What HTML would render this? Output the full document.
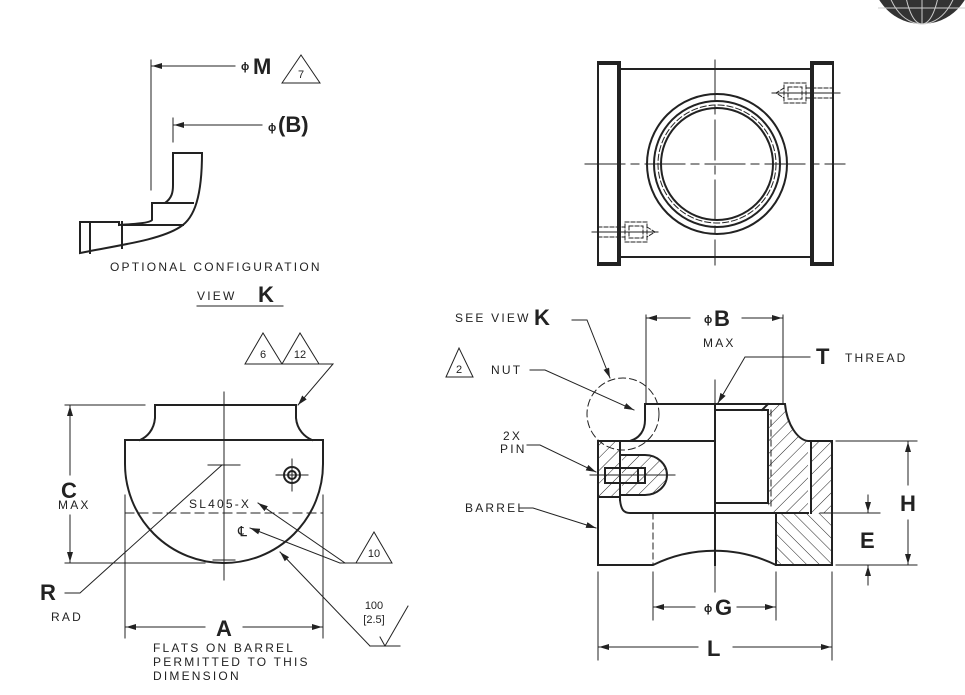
<!DOCTYPE html>
<html><head><meta charset="utf-8"><style>
html,body{margin:0;padding:0;background:#fff;}
svg{display:block;}
text{font-family:"Liberation Sans",sans-serif;fill:#222;}
.s{font-size:12px;letter-spacing:2.2px;}
.b{font-size:22px;font-weight:bold;}
</style></head><body>
<svg width="965" height="695" viewBox="0 0 965 695" xmlns="http://www.w3.org/2000/svg">
<defs>
<pattern id="h" patternUnits="userSpaceOnUse" width="9" height="9" patternTransform="rotate(45)">
<line x1="0" y1="0" x2="0" y2="9" stroke="#222" stroke-width="1"/></pattern>
<pattern id="h2" patternUnits="userSpaceOnUse" width="9" height="9" patternTransform="rotate(-45)">
<line x1="0" y1="0" x2="0" y2="9" stroke="#222" stroke-width="1"/></pattern>
<marker id="a" viewBox="0 0 10 6" refX="10" refY="3" markerWidth="10" markerHeight="6" orient="auto" markerUnits="userSpaceOnUse"><path d="M0,0L10,3L0,6z" fill="#222"/></marker>
</defs>

<!-- logo -->
<circle cx="922" cy="-26" r="50" fill="#333"/>
<g stroke="#ccc" stroke-width="1" fill="none">
<path d="M922,-26 L922,24"/><ellipse cx="922" cy="-26" rx="18" ry="50"/><ellipse cx="922" cy="-26" rx="36" ry="50"/>
<path d="M872,-10 L972,-10 M878,8 L966,8"/></g>

<g stroke="#222" fill="none" stroke-linecap="square">
<!-- ============ TOP LEFT VIEW K ============ -->
<g stroke-width="1">
<line x1="151" y1="60" x2="151" y2="190"/>
<line x1="235" y1="66" x2="152" y2="66" marker-end="url(#a)"/>
<line x1="173" y1="118" x2="173" y2="142"/>
<line x1="262" y1="125" x2="174" y2="125" marker-end="url(#a)"/>
<path d="M282,83 L301,55 L320,83 Z"/>
<line x1="197" y1="306" x2="283" y2="306"/>
</g>
<g stroke-width="2">
<path d="M173,153 L202,153 C202,195 195,218 180,227 C160,240 120,245 80,253 L80,222 L119,222 L119,225 C135,224 150,223 152,220 L152,203 L165,203 C172,198 173,192 173,185 Z"/>
<line x1="90" y1="222" x2="90" y2="253"/>
<line x1="122" y1="222" x2="122" y2="248"/>
<line x1="152" y1="203" x2="193" y2="203"/>
<line x1="122" y1="225" x2="183" y2="225"/>
</g>

<!-- ============ BOTTOM LEFT ============ -->
<g stroke-width="1">
<line x1="224" y1="392" x2="224" y2="580"/>
<line x1="208" y1="465" x2="240" y2="465"/>
<line x1="213" y1="560" x2="235" y2="560"/>
<line x1="125" y1="495" x2="125" y2="638"/>
<line x1="323" y1="495" x2="323" y2="638"/>
<line x1="205" y1="627" x2="126" y2="627" marker-end="url(#a)"/>
<line x1="243" y1="627" x2="322" y2="627" marker-end="url(#a)"/>
<line x1="65" y1="405" x2="145" y2="405"/>
<line x1="65" y1="563" x2="205" y2="563"/>
<line x1="70" y1="475" x2="70" y2="406" marker-end="url(#a)"/>
<line x1="70" y1="515" x2="70" y2="562" marker-end="url(#a)"/>
<path d="M65,593 L80,593 L222,465"/>
<line x1="125" y1="513" x2="323" y2="513" stroke-dasharray="9,5"/>
<line x1="276" y1="475" x2="308" y2="475"/><line x1="292" y1="459" x2="292" y2="491"/>
<path d="M345,563 L258,503" marker-end="url(#a)"/>
<path d="M340,563 L250,528" marker-end="url(#a)"/>
<path d="M340,563 L392,563 L374,532 L356,563"/>
<path d="M370,646 L280,552" marker-end="url(#a)"/>
<path d="M370,646 L400,646 M385,646 L380,637 M385,646 L408,606"/>
<path d="M245,364 L263,333 L282,364 Z"/><path d="M282,364 L300,333 L319,364 Z"/>
<path d="M319,364 L333,364 L298,405" marker-end="url(#a)"/>
</g>
<g stroke-width="2">
<path d="M155,405 L296,405 L296,418 C297,430 305,437 312,440"/>
<path d="M155,405 L155,418 C154,430 147,437 140,440"/>
<path d="M125,440 L323,440 L323,464 A99,99 0 0 1 125,464 Z"/>
<circle cx="292" cy="475" r="8"/><circle cx="292" cy="475" r="4"/>
</g>

<!-- ============ TOP RIGHT ============ -->
<g stroke-width="1">
<line x1="585" y1="164" x2="845" y2="164" stroke-dasharray="40,6,8,6"/>
<line x1="715" y1="60" x2="715" y2="265" stroke-dasharray="40,6,8,6"/>
<circle cx="717" cy="164" r="59" stroke-dasharray="6,3"/>
<g stroke-dasharray="4,2">
<rect x="784" y="83" width="22" height="20"/><rect x="788" y="87" width="14" height="12"/><path d="M784,88 L776,93 L784,98"/><line x1="806" y1="88" x2="832" y2="88"/><line x1="806" y1="98" x2="832" y2="98"/>
<rect x="625" y="222" width="22" height="20"/><rect x="629" y="226" width="14" height="12"/><path d="M647,227 L655,232 L647,237"/><line x1="598" y1="227" x2="625" y2="227"/><line x1="598" y1="237" x2="625" y2="237"/>
</g>
<line x1="772" y1="93" x2="840" y2="93"/><line x1="592" y1="232" x2="658" y2="232"/>
</g>
<g stroke-width="2">
<rect x="598" y="62" width="22" height="203"/>
<rect x="811" y="62" width="22" height="203"/>
<rect x="620" y="69" width="191" height="188"/>
<circle cx="717" cy="164" r="70"/><circle cx="717" cy="164" r="63"/><circle cx="717" cy="164" r="56"/>
</g>
<rect x="598" y="61" width="22" height="4" fill="#222" stroke="none"/><rect x="598" y="262" width="22" height="4" fill="#222" stroke="none"/>
<rect x="811" y="61" width="22" height="4" fill="#222" stroke="none"/><rect x="811" y="262" width="22" height="4" fill="#222" stroke="none"/>
<rect x="617" y="62" width="4" height="203" fill="#222" stroke="none"/><rect x="810" y="62" width="4" height="203" fill="#222" stroke="none"/>

<!-- ============ BOTTOM RIGHT SECTION ============ -->
<path d="M768,404 L785,404 C787,425 798,440 808,441 L808,513 L768,513 Z" fill="url(#h)" stroke="none"/>
<rect x="811" y="441" width="21" height="72" fill="url(#h)" stroke="none"/>
<rect x="776" y="513" width="56" height="52" fill="url(#h2)" stroke="none"/>
<path d="M598,441 L620,441 L620,497 L598,497 Z" fill="url(#h)" stroke="none"/>
<path d="M622,455 L645,455 A22,20 0 0 1 645,495 L622,495 Z" fill="url(#h)" stroke="none"/>
<g stroke-width="1">
<line x1="715" y1="380" x2="715" y2="592" stroke-dasharray="30,5,6,5"/>
<line x1="646" y1="315" x2="646" y2="404"/><line x1="783" y1="315" x2="783" y2="404"/>
<line x1="690" y1="318" x2="647" y2="318" marker-end="url(#a)"/>
<line x1="742" y1="318" x2="782" y2="318" marker-end="url(#a)"/>
<path d="M810,357 L745,357 L718,403" marker-end="url(#a)"/>
<circle cx="623" cy="414" r="36" stroke-dasharray="7,4"/>
<path d="M572,320 L587,320 L610,378" marker-end="url(#a)"/>
<path d="M446,377 L459,348 L473,377 Z"/>
<path d="M530,370 L545,370 L634,410" marker-end="url(#a)"/>
<path d="M527,445 L540,445 L596,472" marker-end="url(#a)"/>
<path d="M520,508 L533,508 L596,528" marker-end="url(#a)"/>
<line x1="590" y1="475" x2="675" y2="475"/>
<line x1="598" y1="572" x2="598" y2="660"/><line x1="832" y1="572" x2="832" y2="660"/>
<line x1="653" y1="572" x2="653" y2="620"/><line x1="776" y1="572" x2="776" y2="620"/>
<line x1="695" y1="607" x2="654" y2="607" marker-end="url(#a)"/>
<line x1="737" y1="607" x2="775" y2="607" marker-end="url(#a)"/>
<line x1="698" y1="647" x2="599" y2="647" marker-end="url(#a)"/>
<line x1="733" y1="647" x2="831" y2="647" marker-end="url(#a)"/>
<line x1="836" y1="441" x2="917" y2="441"/><line x1="836" y1="565" x2="917" y2="565"/>
<line x1="820" y1="513" x2="880" y2="513"/>
<line x1="908" y1="485" x2="908" y2="442" marker-end="url(#a)"/>
<line x1="908" y1="520" x2="908" y2="564" marker-end="url(#a)"/>
<line x1="868" y1="495" x2="868" y2="512" marker-end="url(#a)"/>
<line x1="868" y1="585" x2="868" y2="566" marker-end="url(#a)"/>
<line x1="653" y1="513" x2="653" y2="565" stroke-dasharray="6,4"/>
<line x1="771" y1="410" x2="771" y2="510" stroke-dasharray="6,4"/>
</g>
<g stroke-width="2">
<path d="M645,404 L785,404 C787,425 798,440 808,441 L832,441 L832,565 L776,565 A140,140 0 0 0 653,565 L598,565 L598,441 L630,441 C640,438 645,430 645,420 Z"/>
<line x1="620" y1="441" x2="715" y2="441"/>
<line x1="715" y1="404" x2="715" y2="565"/>
<line x1="768" y1="410" x2="768" y2="503"/>
<line x1="715" y1="410" x2="768" y2="410"/>
<line x1="715" y1="503" x2="768" y2="503"/>
<line x1="768" y1="404" x2="762" y2="410"/>
<line x1="598" y1="497" x2="620" y2="497"/>
<line x1="620" y1="441" x2="620" y2="500"/>
<path d="M620,500 C621,510 624,513 630,513 L808,513"/>
<line x1="811" y1="441" x2="811" y2="513"/>
<line x1="776" y1="513" x2="776" y2="565"/>
<path d="M622,455 L645,455 A22,20 0 0 1 645,495 L622,495"/>
<rect x="605" y="468" width="40" height="15"/>
<line x1="638" y1="468" x2="638" y2="483"/>
</g>
</g>

<!-- ============ TEXT ============ -->
<text x="241" y="70" font-size="11" font-weight="bold">ϕ</text><text x="253" y="74" class="b">M</text>
<text x="301" y="78" font-size="11" text-anchor="middle">7</text>
<text x="268" y="131" font-size="11" font-weight="bold">ϕ</text><text x="278" y="132" class="b" font-size="20">(B)</text>
<text x="110" y="271" class="s" letter-spacing="2.6">OPTIONAL CONFIGURATION</text>
<text x="197" y="300" class="s">VIEW</text><text x="258" y="302" class="b">K</text>
<text x="263" y="358" font-size="11" text-anchor="middle">6</text>
<text x="300" y="358" font-size="11" text-anchor="middle">12</text>
<text x="61" y="498" class="b">C</text><text x="58" y="509" class="s" font-size="11" letter-spacing="1.5">MAX</text>
<text x="40" y="600" class="b">R</text><text x="51" y="621" class="s" font-size="11" letter-spacing="1.5">RAD</text>
<text x="189" y="508" class="s" letter-spacing="0.5">SL405-X</text>
<text x="238" y="536" font-size="14">℄</text>
<text x="374" y="557" font-size="11" text-anchor="middle">10</text>
<text x="374" y="609" font-size="11" text-anchor="middle">100</text>
<text x="374" y="623" font-size="11" text-anchor="middle">[2.5]</text>
<text x="216" y="636" class="b">A</text>
<text x="153" y="652" class="s" letter-spacing="2.6">FLATS ON BARREL</text>
<text x="153" y="666" class="s" letter-spacing="2.6">PERMITTED TO THIS</text>
<text x="153" y="680" class="s" letter-spacing="2.6">DIMENSION</text>
<text x="455" y="322" class="s" letter-spacing="1.5">SEE VIEW</text><text x="534" y="325" class="b">K</text>
<text x="704" y="323" font-size="11" font-weight="bold">ϕ</text><text x="714" y="326" class="b">B</text>
<text x="703" y="347" class="s" font-size="11" letter-spacing="1.5">MAX</text>
<text x="816" y="364" class="b">T</text><text x="845" y="362" class="s">THREAD</text>
<text x="459" y="373" font-size="11" text-anchor="middle">2</text>
<text x="491" y="374" class="s">NUT</text>
<text x="503" y="440" class="s">2X</text><text x="500" y="453" class="s">PIN</text>
<text x="465" y="512" class="s" font-size="11" letter-spacing="1.2">BARREL</text>
<text x="900" y="511" class="b">H</text>
<text x="860" y="548" class="b">E</text>
<text x="704" y="612" font-size="11" font-weight="bold">ϕ</text><text x="715" y="615" class="b">G</text>
<text x="707" y="656" class="b">L</text>
</svg>
</body></html>
